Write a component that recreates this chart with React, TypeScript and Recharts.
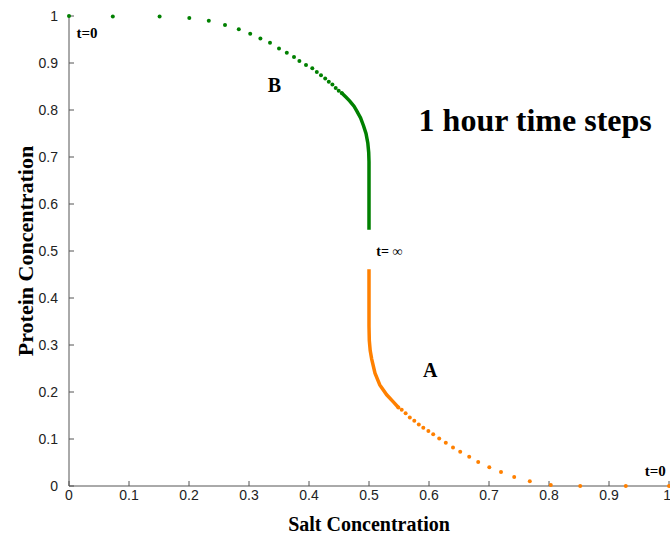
import React from 'react';
import { ComposedChart, Scatter, Line, XAxis, YAxis, ReferenceDot, Label } from 'recharts';

// B branch: sparse early points, then the dense tail that merges into a line
const bDots: [number, number][] = [
  [0, 1], [0.073, 0.999], [0.151, 0.999], [0.2005, 0.996], [0.233, 0.99], [0.26, 0.981],
  [0.283, 0.972], [0.302, 0.962], [0.319, 0.952], [0.335, 0.943], [0.35, 0.931], [0.363, 0.922],
  [0.375, 0.913], [0.384, 0.904], [0.395, 0.896], [0.4055, 0.889], [0.413, 0.881], [0.42, 0.874],
  [0.427, 0.867], [0.433, 0.86], [0.439, 0.854], [0.4445, 0.847], [0.4495, 0.841], [0.4545, 0.836],
];
const bDense: [number, number][] = [
  [0.4545, 0.836], [0.461, 0.828], [0.468, 0.819], [0.475, 0.808], [0.48, 0.797], [0.486, 0.783],
  [0.491, 0.766], [0.495, 0.75], [0.498, 0.73], [0.4995, 0.71], [0.5, 0.69], [0.5, 0.545],
];

// A branch: dense tail near the salt 0.5 line, then sparse points out to t=0
const aDense: [number, number][] = [
  [0.5, 0.461], [0.5, 0.34], [0.5005, 0.31], [0.502, 0.288], [0.5045, 0.27], [0.51, 0.24],
  [0.518, 0.215], [0.5295, 0.194], [0.5405, 0.179], [0.549, 0.167],
];
const aDots: [number, number][] = [
  [0.549, 0.167], [0.5545, 0.162], [0.561, 0.155], [0.568, 0.146], [0.5755, 0.139], [0.583, 0.131],
  [0.5905, 0.124], [0.599, 0.117], [0.607, 0.11], [0.617, 0.101], [0.628, 0.092], [0.64, 0.082],
  [0.652, 0.073], [0.667, 0.062], [0.682, 0.051], [0.7005, 0.04], [0.72, 0.03], [0.742, 0.019],
  [0.768, 0.01], [0.803, 0.002], [0.852, 0], [0.928, 0], [1, 0],
];

const xTicks = [0, 0.1, 0.2, 0.3, 0.4, 0.5, 0.6, 0.7, 0.8, 0.9, 1];
const yTicks = [0, 0.1, 0.2, 0.3, 0.4, 0.5, 0.6, 0.7, 0.8, 0.9, 1];

const notes: { x: number; y: number; text: string; size: number }[] = [
  { x: 0.03, y: 0.964, text: 't=0', size: 15 },
  { x: 0.3425, y: 0.853, text: 'B', size: 20 },
  { x: 0.777, y: 0.779, text: '1 hour time steps', size: 32 },
  { x: 0.534, y: 0.498, text: 't= \u221e', size: 14 },
  { x: 0.602, y: 0.247, text: 'A', size: 20 },
  { x: 0.977, y: 0.032, text: 't=0', size: 15 },
];

const toPts = (arr: [number, number][]) => arr.map(([x, y]) => ({ x, y }));

const GREEN = '#008000';
const ORANGE = '#ff8000';
const SERIF = '"Liberation Serif", "Times New Roman", serif';
const SANS = '"Liberation Sans", Arial, sans-serif';

const dot = (color: string) => (p: any) => <circle cx={p.cx} cy={p.cy} r={2} fill={color} />;

// last x label sits on the page edge, so pull it in a little
const XTick = (p: any) => {
  const last = p.payload.value === 1;
  return (
    <text
      x={last ? p.x + 2 : p.x}
      y={p.y}
      dy="0.71em"
      textAnchor={last ? 'end' : 'middle'}
      style={{ fill: '#222', fontSize: 14, fontFamily: SANS }}
    >
      {p.payload.value}
    </text>
  );
};

export default function App() {
  return (
    <div style={{ position: 'absolute', left: 0, top: 0, width: 670, height: 535, background: '#fff', overflow: 'hidden' }}>
      <ComposedChart width={670} height={535} margin={{ top: 16, right: 1, bottom: 0, left: 0 }}>
        <XAxis
          type="number"
          dataKey="x"
          domain={[0, 1]}
          ticks={xTicks}
          height={49}
          tickSize={-5}
          tickMargin={9}
          stroke="#555"
          tick={<XTick />}
          interval={0}
        >
          <Label
            content={(props: any) => {
              const vb = props.viewBox;
              return (
                <text
                  x={vb.x + vb.width / 2}
                  y={524}
                  textAnchor="middle"
                  dominantBaseline="central"
                  style={{ fontFamily: SERIF, fontWeight: 'bold', fontSize: 20, fill: '#000' }}
                >
                  Salt Concentration
                </text>
              );
            }}
          />
        </XAxis>
        <YAxis
          type="number"
          dataKey="y"
          domain={[0, 1]}
          ticks={yTicks}
          width={69}
          tickSize={-5}
          tickMargin={16}
          stroke="#555"
          tick={{ fill: '#222', fontSize: 14, fontFamily: SANS }}
          interval={0}
        >
          <Label
            content={(props: any) => {
              const vb = props.viewBox;
              const cy = vb.y + vb.height / 2;
              return (
                <text
                  x={25}
                  y={cy}
                  transform={`rotate(-90, 25, ${cy})`}
                  textAnchor="middle"
                  dominantBaseline="central"
                  style={{ fontFamily: SERIF, fontWeight: 'bold', fontSize: 22, fill: '#000' }}
                >
                  Protein Concentration
                </text>
              );
            }}
          />
        </YAxis>
        <Line
          data={toPts(bDense)}
          dataKey="y"
          type="linear"
          stroke={GREEN}
          strokeWidth={3.5}
          dot={false}
          activeDot={false}
          isAnimationActive={false}
        />
        <Line
          data={toPts(aDense)}
          dataKey="y"
          type="linear"
          stroke={ORANGE}
          strokeWidth={3.5}
          dot={false}
          activeDot={false}
          isAnimationActive={false}
        />
        <Scatter data={toPts(bDots)} dataKey="y" fill={GREEN} shape={dot(GREEN)} isAnimationActive={false} />
        <Scatter data={toPts(aDots)} dataKey="y" fill={ORANGE} shape={dot(ORANGE)} isAnimationActive={false} />
        {notes.map((n, i) => (
          <ReferenceDot
            key={i}
            x={n.x}
            y={n.y}
            r={0}
            shape={(p: any) => (
              <text
                x={p.cx}
                y={p.cy}
                textAnchor="middle"
                dominantBaseline="central"
                style={{ fontFamily: SERIF, fontWeight: 'bold', fontSize: n.size, fill: '#000' }}
              >
                {n.text}
              </text>
            )}
          />
        ))}
      </ComposedChart>
    </div>
  );
}
